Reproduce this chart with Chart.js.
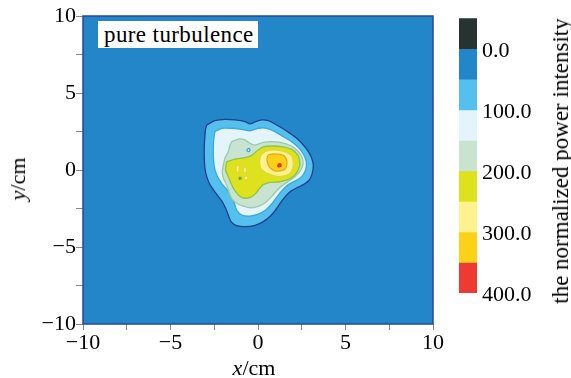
<!DOCTYPE html>
<html>
<head>
<meta charset="utf-8">
<script src="https://cdn.jsdelivr.net/npm/chart.js@4.4.0/dist/chart.umd.min.js"></script>
<style>
  body { margin: 0; background: #fff; }
  #wrap { position: relative; width: 571px; height: 378px; font-family: "Liberation Serif", "Times New Roman", serif; color: #000; }
  #main { position: absolute; left: 0; top: 0; }
  #bar { position: absolute; left: 455px; top: 0; }
  .lbl { position: absolute; white-space: nowrap; font-size: 22px; line-height: 22px; }
  #tag { position: absolute; left: 98px; top: 21px; width: 154px; height: 27px; padding-left: 6px; background: #fff; font-size: 23px; letter-spacing: 0.4px; line-height: 27px; white-space: nowrap; }
</style>
</head>
<body>
<div id="wrap">
  <canvas id="main" width="571" height="378"></canvas>
  <canvas id="bar" width="116" height="378"></canvas>
  <div id="tag">pure turbulence</div>
  <div class="lbl" style="left:254px;top:357px;transform:translateX(-50%)"><i>x</i>/cm</div>
  <div class="lbl" style="left:18px;top:179px;transform:translate(-50%,-50%) rotate(-90deg)"><i>y</i>/cm</div>
  <div class="lbl" style="left:561px;top:161px;font-size:23px;transform:translate(-50%,-50%) rotate(-90deg)">the normalized power intensity</div>
</div>
<script>
// colour bar bands (value edges) and their colours
const bandEdges = [-50, 0, 50, 100, 150, 200, 250, 300, 350, 400];
const bandColors = ['#273330', '#2386c9', '#55c0ed', '#e3f4fb', '#c8e3cf', '#dde21d', '#fdf28e', '#fdd118', '#ee3a33'];
const barTicks = [0, 100, 200, 300, 400];

// axis ticks of the field plot (cm)
const axisMin = -10;
const axisMax = 10;
const axisStep = 2.5;

// contour lines, [x, y] in cm
const contour50 = [
  [-2.93, 2.92], [-2.46, 3.20], [-1.89, 3.29], [-1.31, 3.25], [-0.74, 3.14], [-0.46, 2.99],
  [-0.17, 3.12], [0.21, 3.25], [0.59, 3.20], [0.97, 2.99], [1.39, 2.71], [1.83, 2.38],
  [2.21, 2.06], [2.59, 1.62], [2.88, 1.19], [3.07, 0.76], [3.16, 0.32], [3.10, -0.22],
  [2.93, -0.65], [2.65, -0.91], [2.27, -1.13], [1.92, -1.34], [1.64, -1.62], [1.35, -2.02],
  [1.07, -2.50], [0.74, -2.95], [0.30, -3.35], [-0.17, -3.59], [-0.74, -3.68], [-1.22, -3.61],
  [-1.54, -3.35], [-1.70, -2.92], [-1.85, -2.49], [-2.08, -1.99], [-2.40, -1.52], [-2.74, -0.97],
  [-2.93, -0.43], [-3.03, 0.11], [-3.07, 0.76], [-3.07, 1.52], [-3.03, 2.27], [-2.99, 2.71],
  [-2.93, 2.92]
];
const contour100 = [
  [-2.46, 2.49], [-2.08, 2.71], [-1.50, 2.71], [-0.93, 2.64], [-0.46, 2.55], [0.02, 2.71],
  [0.50, 2.71], [0.97, 2.49], [1.45, 2.16], [1.92, 1.84], [2.30, 1.47], [2.59, 1.04],
  [2.76, 0.54], [2.72, 0.00], [2.50, -0.43], [2.11, -0.72], [1.73, -0.95], [1.42, -1.28],
  [1.12, -1.69], [0.82, -2.16], [0.44, -2.60], [0.02, -2.86], [-0.46, -2.99], [-0.93, -2.92],
  [-1.22, -2.60], [-1.35, -2.16], [-1.50, -1.73], [-1.79, -1.26], [-2.11, -0.82], [-2.36, -0.32],
  [-2.50, 0.22], [-2.55, 0.87], [-2.55, 1.62], [-2.51, 2.16], [-2.46, 2.49]
];
const contour150 = [
  [-1.50, 1.84], [-1.12, 2.01], [-0.74, 1.95], [-0.46, 1.73], [-0.17, 1.62], [0.30, 1.80],
  [0.88, 1.84], [1.45, 1.75], [1.92, 1.55], [2.30, 1.20], [2.52, 0.80], [2.57, 0.40],
  [2.45, 0.00], [2.20, -0.35], [1.85, -0.65], [1.45, -0.95], [1.10, -1.30], [0.80, -1.70],
  [0.45, -2.10], [0.05, -2.35], [-0.40, -2.45], [-0.84, -2.35], [-1.22, -2.16], [-1.50, -1.84],
  [-1.66, -1.41], [-1.79, -0.97], [-1.98, -0.54], [-2.04, -0.11], [-1.98, 0.32], [-1.89, 0.76],
  [-1.70, 1.19], [-1.60, 1.62], [-1.50, 1.84]
];
const contour200 = [
  [-1.79, 0.54], [-1.31, 0.71], [-0.74, 0.80], [-0.36, 0.95], [-0.05, 1.25], [0.30, 1.50],
  [0.88, 1.56], [1.45, 1.50], [1.92, 1.34], [2.21, 1.06], [2.36, 0.71], [2.38, 0.28],
  [2.25, -0.11], [2.02, -0.43], [1.64, -0.66], [1.16, -0.78], [0.69, -0.80], [0.30, -0.95],
  [0.05, -1.25], [-0.15, -1.55], [-0.45, -1.78], [-0.84, -1.82], [-1.12, -1.62], [-1.35, -1.30],
  [-1.54, -0.87], [-1.70, -0.43], [-1.85, 0.00], [-1.79, 0.54]
];
const contour250 = [
  [0.08, 0.54], [0.15, 0.93], [0.40, 1.19], [0.78, 1.30], [1.26, 1.26], [1.64, 1.15],
  [1.92, 0.93], [2.02, 0.54], [1.98, 0.11], [1.83, -0.22], [1.54, -0.37], [1.16, -0.43],
  [0.78, -0.32], [0.40, -0.15], [0.15, 0.11], [0.08, 0.54]
];
const contour300 = [
  [0.50, 0.71], [0.59, 0.97], [0.88, 1.04], [1.26, 1.02], [1.49, 0.93], [1.64, 0.65],
  [1.64, 0.32], [1.54, 0.06], [1.26, -0.06], [0.97, -0.06], [0.72, 0.11], [0.59, 0.32],
  [0.50, 0.71]
];
const contour350 = [
  [1.15, 0.37], [1.27, 0.41], [1.32, 0.29], [1.24, 0.21], [1.13, 0.25], [1.15, 0.37]
];
const contourLevels = [50, 100, 150, 200, 250, 300, 350];
const contourShapes = [contour50, contour100, contour150, contour200, contour250, contour300, contour350];
const contourLines = ['#203e8e', '#3aa7de', '#9ccaa9', '#8cc34a', '#e3d53a', '#eaa521', '#d8322a'];

// small islands inside the larger regions
const islandA = [[-1.22, 0.28], [-1.10, 0.32], [-1.08, 0.05], [-1.12, -0.18], [-1.22, -0.15], [-1.26, 0.08], [-1.22, 0.28]];
const islandB = [[-0.82, 0.18], [-0.70, 0.20], [-0.66, 0.00], [-0.70, -0.18], [-0.80, -0.16], [-0.84, 0.02], [-0.82, 0.18]];
const islandC = [[-0.78, -0.42], [-0.62, -0.40], [-0.58, -0.55], [-0.66, -0.64], [-0.78, -0.60], [-0.78, -0.42]];
const islandD = [[-0.62, 1.36], [-0.50, 1.40], [-0.46, 1.28], [-0.52, 1.20], [-0.62, 1.24], [-0.62, 1.36]];
const islandE = [[-1.08, -0.48], [-0.98, -0.48], [-0.97, -0.58], [-1.06, -0.60], [-1.08, -0.48]];
const islandLevels = [250, 250, 250, 100, 150];
const islandShapes = [islandA, islandB, islandC, islandD, islandE];
const islandLines = ['#e3d53a', '#e3d53a', '#e3d53a', '#3aa7de', '#5d9a4a'];

const serif = '"Liberation Serif", "Times New Roman", serif';

function bandColor(level) {
  return bandColors[bandEdges.indexOf(level)];
}

function minusLabel(v) {
  if (v % 5 !== 0) return '';
  return v < 0 ? '\u2212' + (-v) : String(v);
}

function shapeDataset(points, level, line, order) {
  return {
    data: points.map(p => ({ x: p[0], y: p[1] })),
    showLine: true,
    fill: 'shape',
    backgroundColor: bandColor(level),
    borderColor: line,
    borderWidth: 1.3,
    tension: 0.2,
    pointRadius: 0,
    pointHoverRadius: 0,
    order: order
  };
}

const datasets = [];
contourShapes.forEach((shape, i) => {
  datasets.push(shapeDataset(shape, contourLevels[i], contourLines[i], 20 - i));
});
islandShapes.forEach((shape, i) => {
  datasets.push(shapeDataset(shape, islandLevels[i], islandLines[i], 1));
});

// blue field behind the contours and the frame round it
const plotFrame = {
  id: 'plotFrame',
  beforeDatasetsDraw(chart) {
    const { ctx, chartArea: a } = chart;
    ctx.save();
    ctx.fillStyle = bandColors[1];
    ctx.fillRect(a.left, a.top, a.right - a.left, a.bottom - a.top);
    ctx.restore();
  },
  afterDatasetsDraw(chart) {
    const { ctx, chartArea: a } = chart;
    ctx.save();
    ctx.strokeStyle = '#2a4596';
    ctx.lineWidth = 1.5;
    ctx.strokeRect(a.left, a.top, a.right - a.left, a.bottom - a.top);
    ctx.restore();
  }
};

const tickFont = { family: serif, size: 22 };

new Chart(document.getElementById('main'), {
  type: 'scatter',
  data: { datasets: datasets },
  options: {
    responsive: false,
    animation: false,
    events: [],
    layout: { padding: { left: 0, top: 16, right: 138, bottom: 0 } },
    plugins: { legend: { display: false }, tooltip: { enabled: false } },
    scales: {
      x: {
        type: 'linear',
        min: axisMin,
        max: axisMax,
        ticks: { stepSize: axisStep, autoSkip: false, maxRotation: 0, color: '#000', font: tickFont, padding: 0, callback: minusLabel },
        grid: { drawOnChartArea: false, tickLength: 6, color: '#8a8a8a' },
        border: { display: false },
        afterFit: s => { s.height = 54; }
      },
      y: {
        type: 'linear',
        min: axisMin,
        max: axisMax,
        ticks: { stepSize: axisStep, autoSkip: false, color: '#000', font: tickFont, padding: 0, callback: minusLabel },
        grid: { drawOnChartArea: false, tickLength: 7, color: '#8a8a8a' },
        border: { display: false },
        afterFit: s => { s.width = 83; }
      }
    }
  },
  plugins: [plotFrame]
});

// colour bar: one floating bar per band
const barSets = bandColors.map((c, i) => ({
  data: [[bandEdges[i], bandEdges[i + 1]]],
  backgroundColor: c,
  borderWidth: 0,
  barPercentage: 1,
  categoryPercentage: 1,
  grouped: false
}));

new Chart(document.getElementById('bar'), {
  type: 'bar',
  data: { labels: ['band'], datasets: barSets },
  options: {
    responsive: false,
    animation: false,
    events: [],
    layout: { padding: { left: 4, top: 13, right: 0, bottom: 85 } },
    plugins: { legend: { display: false }, tooltip: { enabled: false } },
    scales: {
      x: { display: false },
      y: {
        position: 'right',
        reverse: true,
        min: bandEdges[0],
        max: bandEdges[bandEdges.length - 1],
        afterBuildTicks: s => { s.ticks = barTicks.map(v => ({ value: v })); },
        ticks: { color: '#000', font: tickFont, padding: 5, labelOffset: 2, callback: v => v.toFixed(1) },
        grid: { display: false, drawTicks: false },
        border: { display: false },
        afterFit: s => { s.width = 94; }
      }
    }
  }
});
</script>
</body>
</html>
